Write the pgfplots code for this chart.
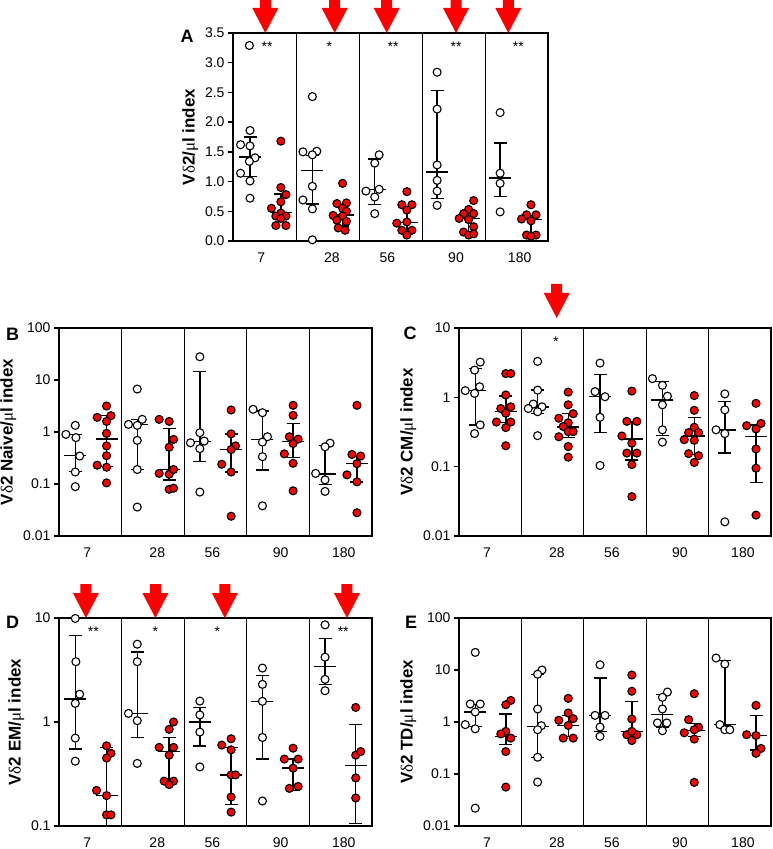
\documentclass[border=0pt]{standalone}
\usepackage{fontspec}
\setmainfont{Liberation Sans}
\newfontfamily\symf{Liberation Serif}
\usepackage{pgfplots}
\usepackage{pgfplotstable}
\pgfplotsset{compat=1.18}

\pgfplotsset{
  panel/.style={
    scale only axis, height=208pt, xmin=0, xmax=5,
    axis line style={line width=1.8pt},
    xtick={0.45,1.57,2.45,3.54,4.55},
    xticklabels={7,28,56,90,180},
    xtick style={draw=none},
    extra x ticks={1,2,3,4}, extra x tick labels={},
    extra x tick style={grid=major, major grid style={black, line width=0.9pt}},
    ytick pos=left, tick align=outside, major tick length=5pt,
    ytick style={line width=1.5pt, black},
    tick label style={font=\fontsize{14}{16}\selectfont},
    xticklabel style={yshift=-3pt},
    label style={font=\bfseries\fontsize{17}{19}\selectfont},
    /pgf/number format/assume math mode=true,
    clip mode=individual,
    yminorticks=false,
  },
  wpt/.style={only marks, mark=*, mark size=4pt, mark options={fill=white, draw=black, line width=1.1pt}},
  rpt/.style={only marks, mark=*, mark size=4pt, mark options={fill=red, draw=black, line width=1.1pt}},
  ebar/.style={only marks, black, mark=-, mark size=11pt, mark options={line width=1.4pt},
    error bars/.cd, y dir=both, y explicit, error mark=|,
    error mark options={mark size=6.5pt, line width=1.4pt, black},
    error bar style={line width=1.4pt, black}},
}
\newcommand\redarrow[3]{\fill[red] (axis cs:#1,#2) ++(0pt,#3) -- ++(-13pt,25pt) -- ++(7.5pt,0pt) -- ++(0pt,9pt) -- ++(11pt,0pt) -- ++(0pt,-9pt) -- ++(7.5pt,0pt) -- cycle;}
\newcommand\stars[3]{\node[anchor=north, inner sep=0pt, font=\fontsize{14}{16}\selectfont] at ([yshift=-9pt]axis cs:#1,#2) {#3};}
\newcommand\ebars[1]{\addplot[ebar] table[x=x, y=m, y error plus expr=\thisrow{hi}-\thisrow{m}, y error minus expr=\thisrow{m}-\thisrow{lo}] {#1};}

% ---------------- Panel A ----------------
\pgfplotstableread{
x y
0.26 3.29
0.27 1.86
0.12 1.62
0.27 1.60
0.35 1.40
0.26 1.34
0.12 1.14
0.27 1.01
0.27 0.72
1.26 2.43
1.11 1.50
1.33 1.51
1.26 1.45
1.26 0.92
1.11 0.69
1.26 0.54
1.26 0.02
2.32 1.45
2.25 1.31
2.11 0.84
2.32 0.87
2.25 0.74
2.25 0.46
3.24 2.84
3.24 2.22
3.24 1.28
3.24 1.02
3.24 0.84
3.24 0.60
4.24 2.16
4.24 1.14
4.24 0.97
4.24 0.49
}\Aw
\pgfplotstableread{
x y
0.76 1.68
0.76 0.90
0.84 0.78
0.61 0.55
0.76 0.66
0.76 0.47
0.68 0.42
0.84 0.42
0.76 0.38
0.68 0.26
0.84 0.26
1.74 0.97
1.65 0.63
1.80 0.64
1.74 0.55
1.59 0.43
1.80 0.50
1.74 0.42
1.65 0.35
1.80 0.33
1.67 0.22
1.78 0.18
2.76 0.83
2.68 0.61
2.84 0.61
2.76 0.52
2.60 0.30
2.76 0.32
2.68 0.18
2.84 0.18
2.76 0.10
3.82 0.68
3.74 0.53
3.66 0.46
3.82 0.46
3.59 0.38
3.74 0.36
3.82 0.24
3.66 0.15
3.74 0.10
3.82 0.12
4.73 0.61
4.66 0.44
4.81 0.44
4.58 0.37
4.73 0.34
4.66 0.10
4.81 0.10
4.73 0.08
}\Ar
\pgfplotstableread{
x m lo hi
0.27 1.41 1.09 1.75
1.26 1.19 0.62 1.44
2.25 0.87 0.61 1.38
3.24 1.16 0.72 2.53
4.24 1.06 0.745 1.65
}\AwE
\pgfplotstableread{
x m lo hi
0.76 0.48 0.38 0.79
1.74 0.44 0.25 0.60
2.76 0.31 0.18 0.58
3.74 0.38 0.15 0.53
4.73 0.36 0.10 0.42
}\ArE

% ---------------- Panel B ----------------
\pgfplotstableread{
x y
0.11 0.90
0.26 1.34
0.27 0.78
0.33 0.345
0.26 0.17
0.26 0.089
1.11 1.40
1.25 1.34
1.33 1.75
1.25 0.69
1.25 0.19
1.25 6.7
1.25 0.036
2.25 28
2.25 0.97
2.10 0.62
2.32 0.67
2.25 0.48
2.25 0.070
3.10 2.73
3.25 2.35
3.33 0.81
3.25 0.64
3.25 0.335
3.25 0.038
4.33 0.61
4.25 0.52
4.10 0.16
4.25 0.12
4.25 0.072
}\Bw
\pgfplotstableread{
x y
0.76 3.16
0.61 1.91
0.83 2.06
0.76 1.6
0.76 0.94
0.76 0.54
0.76 0.35
0.61 0.23
0.76 0.21
0.76 0.105
1.60 1.75
1.76 1.60
1.83 0.72
1.76 0.51
1.60 0.16
1.76 0.154
1.83 0.19
1.76 0.079
1.83 0.083
2.75 2.65
2.75 0.92
2.82 0.54
2.60 0.24
2.75 0.17
2.75 0.024
2.75 0.46
3.74 3.26
3.74 2.09
3.68 0.81
3.82 0.73
3.74 0.60
3.60 0.38
3.74 0.25
3.74 0.074
4.76 3.26
4.68 0.37
4.82 0.345
4.76 0.246
4.60 0.15
4.76 0.11
4.76 0.028
}\Br
\pgfplotstableread{
x m lo hi
0.26 0.355 0.175 0.90
1.25 1.40 0.19 1.75
2.25 0.65 0.27 14.7
3.25 0.72 0.186 2.53
4.25 0.155 0.097 0.545
}\BwE
\pgfplotstableread{
x m lo hi
0.76 0.74 0.215 2.06
1.76 0.19 0.12 1.16
2.75 0.46 0.17 0.92
3.74 0.66 0.325 1.47
4.76 0.246 0.11 0.345
}\BrE

% ---------------- Panel C ----------------
\pgfplotstableread{
x y
0.34 3.22
0.25 2.47
0.33 1.42
0.10 1.25
0.25 1.14
0.34 0.40
0.25 0.30
1.26 3.3
1.26 1.27
1.19 0.80
1.11 0.69
1.33 0.73
1.26 0.62
1.26 0.28
2.26 3.12
2.18 1.21
2.34 1.02
2.26 0.515
2.26 0.104
3.10 1.86
3.26 1.49
3.34 1.04
3.26 0.78
3.26 0.34
3.26 0.226
4.26 1.12
4.26 0.66
4.12 0.34
4.26 0.30
4.26 0.016
}\Cw
\pgfplotstableread{
x y
0.75 2.2
0.83 2.2
0.75 1.08
0.67 0.69
0.83 0.73
0.75 0.59
0.60 0.44
0.83 0.44
0.75 0.366
0.75 0.20
1.75 1.19
1.75 0.78
1.60 0.50
1.83 0.58
1.75 0.43
1.67 0.38
1.75 0.32
1.60 0.27
1.83 0.32
1.75 0.195
1.75 0.137
2.77 1.23
2.69 0.45
2.85 0.45
2.61 0.277
2.77 0.218
2.85 0.157
2.69 0.157
2.77 0.107
2.77 0.037
3.77 1.06
3.77 0.65
3.77 0.37
3.68 0.31
3.84 0.31
3.61 0.245
3.77 0.24
3.68 0.154
3.84 0.144
3.77 0.115
4.76 0.82
4.61 0.39
4.84 0.42
4.76 0.35
4.76 0.18
4.76 0.095
4.76 0.020
}\Cr
\pgfplotstableread{
x m lo hi
0.26 1.26 0.40 2.61
1.26 0.73 0.59 1.27
2.26 1.02 0.31 2.14
3.26 0.915 0.28 1.68
4.26 0.34 0.157 0.876
}\CwE
\pgfplotstableread{
x m lo hi
0.75 0.62 0.43 1.05
1.75 0.375 0.266 0.58
2.77 0.25 0.125 0.45
3.77 0.278 0.15 0.515
4.76 0.27 0.059 0.40
}\CrE

% ---------------- Panel D ----------------
\pgfplotstableread{
x y
0.26 9.9
0.27 3.8
0.33 1.85
0.26 1.51
0.26 0.70
0.26 0.42
1.25 5.6
1.25 3.8
1.11 1.21
1.25 1.03
1.25 0.40
2.25 1.59
2.25 1.17
2.25 0.80
2.25 0.37
3.25 3.3
3.25 2.3
3.25 1.58
3.25 0.71
3.25 0.174
4.25 8.6
4.25 4.2
4.25 2.57
4.25 2.0
}\Dw
\pgfplotstableread{
x y
0.76 0.59
0.83 0.50
0.76 0.45
0.60 0.22
0.76 0.196
0.76 0.128
0.83 0.128
1.83 1.0
1.76 0.85
1.60 0.57
1.83 0.57
1.76 0.48
1.68 0.27
1.83 0.27
1.76 0.25
2.75 0.69
2.60 0.60
2.75 0.54
2.75 0.31
2.82 0.31
2.75 0.19
2.75 0.136
3.74 0.56
3.60 0.44
3.82 0.44
3.74 0.36
3.68 0.23
3.82 0.24
4.74 1.38
4.74 0.48
4.82 0.52
4.74 0.29
4.74 0.186
}\Dr
\pgfplotstableread{
x m lo hi
0.26 1.66 0.55 6.8
1.25 1.21 0.71 4.7
2.25 1.0 0.59 1.38
3.25 1.58 0.44 2.8
4.25 3.4 2.3 6.35
}\DwE
\pgfplotstableread{
x m lo hi
0.76 0.196 0.1 0.57
1.76 0.52 0.25 0.707
2.75 0.308 0.162 0.57
3.74 0.36 0.22 0.44
4.74 0.38 0.105 0.95
}\DrE

% ---------------- Panel E ----------------
\pgfplotstableread{
x y
0.26 21.8
0.18 2.22
0.34 2.22
0.26 1.56
0.10 0.89
0.26 0.74
0.26 0.022
1.33 10
1.26 8.3
1.26 1.78
1.32 0.85
1.26 0.71
1.26 0.21
1.26 0.070
2.26 12.6
2.18 1.34
2.34 1.34
2.26 0.80
2.26 0.53
3.34 3.77
3.26 2.98
3.26 1.78
3.18 0.96
3.33 0.96
3.26 0.68
4.12 17
4.26 13
4.18 0.89
4.26 0.71
4.34 0.71
}\Ew
\pgfplotstableread{
x y
0.83 2.6
0.75 2.15
0.75 0.66
0.67 0.59
0.83 0.49
0.75 0.27
0.75 0.056
1.75 2.85
1.75 1.49
1.83 1.16
1.60 1.08
1.75 0.86
1.67 0.49
1.83 0.49
2.77 8.0
2.77 3.9
2.77 1.14
2.69 0.57
2.85 0.57
2.77 0.66
2.77 0.44
3.77 3.5
3.68 1.11
3.84 0.79
3.61 0.62
3.77 0.71
3.77 0.47
3.77 0.069
4.76 2.09
4.61 0.57
4.76 0.55
4.84 0.31
4.76 0.25
}\Er
\pgfplotstableread{
x m lo hi
0.26 1.56 0.83 2.15
1.26 0.83 0.21 8.3
2.26 1.34 0.66 7.0
3.26 1.38 0.80 3.35
4.26 0.89 0.85 15.3
}\EwE
\pgfplotstableread{
x m lo hi
0.75 0.53 0.37 1.43
1.75 0.86 0.53 1.34
2.77 0.66 0.49 2.5
3.77 0.69 0.53 0.93
4.76 0.55 0.29 1.32
}\ErE

\begin{document}
\begin{tikzpicture}
\useasboundingbox (0pt,0pt) rectangle (773pt,849pt);

% Panel A
\begin{axis}[panel, at={(233pt,608pt)}, anchor=south west, width=315pt,
  ymin=0, ymax=3.5, ytick={0,0.5,1,1.5,2,2.5,3,3.5},
  yticklabels={0.0,0.5,1.0,1.5,2.0,2.5,3.0,3.5},
  ylabel={V{\symf\mdseries δ}2/{\symf\mdseries μ}l index}]
\ebars{\AwE}
\ebars{\ArE}
\addplot[wpt] table[x=x,y=y] {\Aw};
\addplot[rpt] table[x=x,y=y] {\Ar};
\stars{0.54}{3.5}{**}
\stars{1.53}{3.5}{*}
\stars{2.54}{3.5}{**}
\stars{3.54}{3.5}{**}
\stars{4.53}{3.5}{**}
\redarrow{0.513}{3.5}{0pt}
\redarrow{1.614}{3.5}{0pt}
\redarrow{2.44}{3.5}{0pt}
\redarrow{3.54}{3.5}{0pt}
\redarrow{4.37}{3.5}{0pt}
\end{axis}

% Panel B
\begin{axis}[panel, at={(59pt,313pt)}, anchor=south west, width=313pt,
  ymode=log, ymin=0.01, ymax=100, ytick={0.01,0.1,1,10,100},
  yticklabels={0.01,0.1,1,10,100},
  ylabel={V{\symf\mdseries δ}2 Naive/{\symf\mdseries μ}l index}]
\ebars{\BwE}
\ebars{\BrE}
\addplot[wpt] table[x=x,y=y] {\Bw};
\addplot[rpt] table[x=x,y=y] {\Br};
\end{axis}

% Panel C
\begin{axis}[panel, at={(459pt,313pt)}, anchor=south west, width=312pt,
  ymode=log, ymin=0.01, ymax=10, ytick={0.01,0.1,1,10},
  yticklabels={0.01,0.1,1,10},
  ylabel={V{\symf\mdseries δ}2 CM/{\symf\mdseries μ}l index}]
\ebars{\CwE}
\ebars{\CrE}
\addplot[wpt] table[x=x,y=y] {\Cw};
\addplot[rpt] table[x=x,y=y] {\Cr};
\stars{1.55}{10}{*}
\redarrow{1.566}{10}{10pt}
\end{axis}

% Panel D
\begin{axis}[panel, at={(59pt,23pt)}, anchor=south west, width=313pt,
  ymode=log, ymin=0.1, ymax=10, ytick={0.1,1,10},
  yticklabels={0.1,1,10},
  ylabel={V{\symf\mdseries δ}2 EM/{\symf\mdseries μ}l index}]
\ebars{\DwE}
\ebars{\DrE}
\addplot[wpt] table[x=x,y=y] {\Dw};
\addplot[rpt] table[x=x,y=y] {\Dr};
\stars{0.55}{10}{**}
\stars{1.54}{10}{*}
\stars{2.53}{10}{*}
\stars{4.54}{10}{**}
\redarrow{0.43}{10}{0pt}
\redarrow{1.54}{10}{0pt}
\redarrow{2.65}{10}{0pt}
\redarrow{4.6}{10}{0pt}
\end{axis}

% Panel E
\begin{axis}[panel, at={(459pt,23pt)}, anchor=south west, width=312pt,
  ymode=log, ymin=0.01, ymax=100, ytick={0.01,0.1,1,10,100},
  yticklabels={0.01,0.1,1,10,100},
  ylabel={V{\symf\mdseries δ}2 TD/{\symf\mdseries μ}l index}]
\ebars{\EwE}
\ebars{\ErE}
\addplot[wpt] table[x=x,y=y] {\Ew};
\addplot[rpt] table[x=x,y=y] {\Er};
\end{axis}

\node[font=\bfseries\fontsize{18}{20}\selectfont] at (187pt,813pt) {A};
\node[font=\bfseries\fontsize{18}{20}\selectfont] at (12.5pt,515pt) {B};
\node[font=\bfseries\fontsize{18}{20}\selectfont] at (410pt,516pt) {C};
\node[font=\bfseries\fontsize{18}{20}\selectfont] at (12.5pt,227pt) {D};
\node[font=\bfseries\fontsize{18}{20}\selectfont] at (411pt,227pt) {E};
\end{tikzpicture}
\end{document}
